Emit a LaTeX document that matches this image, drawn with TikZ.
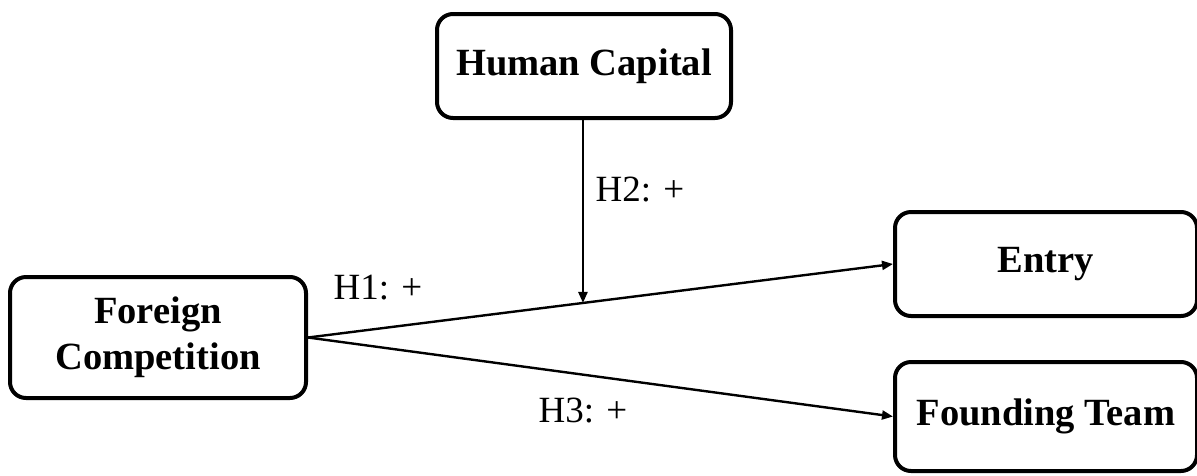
\documentclass[tikz,border=0pt]{standalone}
\usepackage{fontspec}
\setmainfont{Liberation Serif}
\usetikzlibrary{arrows.meta,calc}
\begin{document}
\begin{tikzpicture}[x=1pt,y=-1pt,
  box/.style={draw=black,line width=4pt,rounded corners=16pt,align=center,inner sep=0pt,
    font=\fontsize{38.5}{46}\selectfont\bfseries},
  conn/.style={line width=2.4pt,-{Triangle[length=11pt,width=9pt]}},
  lbl/.style={inner sep=0pt,font=\fontsize{37}{45}\selectfont}]
\useasboundingbox (0,0) rectangle (1197,475);
\node[box,minimum width=294pt,minimum height=104pt] (hc) at (584,66) {Human Capital};
\node[box,minimum width=296pt,minimum height=121pt] (fc) at (158,337.5) {Foreign\\Competition};
\node[box,minimum width=302pt,minimum height=104pt] (en) at (1046,264) {Entry};
\node[box,minimum width=302pt,minimum height=109pt] (ft) at (1046,416.5) {Founding Team};
\draw[conn] (fc.east) -- coordinate[pos=0.47] (m) (en.west);
\draw[conn] (fc.east) -- (ft.west);
\draw[conn] (m |- hc.south) -- (m);
\node[lbl] (h1) at (378,288) {H1: +};
\node[lbl] (h2) at (640,190) {H2: +};
\node[lbl] (h3) at (583,411) {H3: +};
\end{tikzpicture}
\end{document}
